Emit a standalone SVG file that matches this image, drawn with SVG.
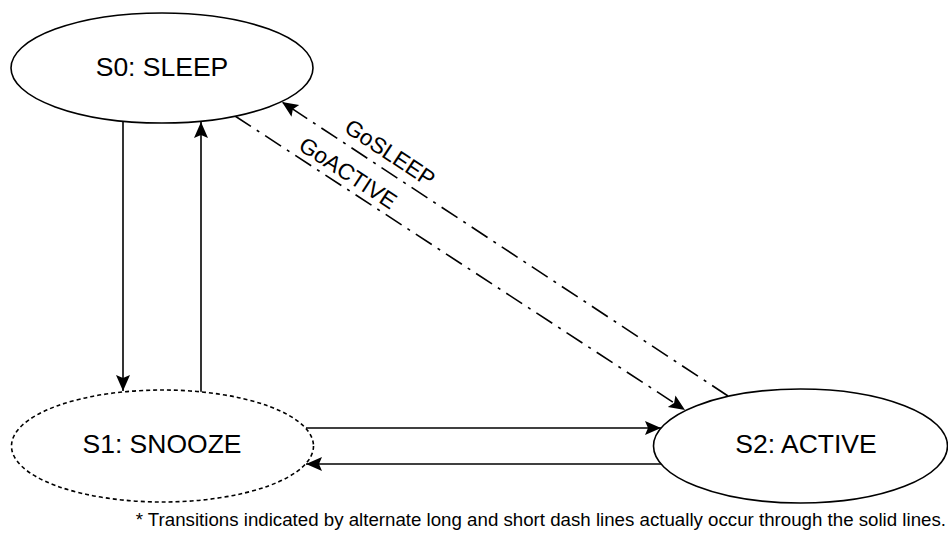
<svg xmlns="http://www.w3.org/2000/svg" width="948" height="534" viewBox="0 0 948 534">
<style>
  .node { fill: #ffffff; stroke: #000000; stroke-width: 1.6; }
  .dotted { stroke-dasharray: 4 3; }
  .lbl { font-family: "Liberation Sans", Arial, sans-serif; font-size: 26.5px; fill: #000; text-anchor: middle; }
  .edge { fill: none; stroke: #000; stroke-width: 1.6; }
  .dashdot { stroke-dasharray: 19 7 3 7; }
  .elbl { font-family: "Liberation Sans", Arial, sans-serif; font-size: 22.5px; fill: #000; text-anchor: middle; }
  .note { font-family: "Liberation Sans", Arial, sans-serif; font-size: 18.7px; fill: #000; text-anchor: end; }
</style>
<defs>
  <marker id="arr" markerUnits="userSpaceOnUse" markerWidth="18" markerHeight="16" refX="16" refY="7" orient="auto">
    <path d="M0,0 L16,7 L0,14 L3,7 Z" fill="#000"/>
  </marker>
</defs>
<rect width="948" height="534" fill="#ffffff"/>

<g id="connectors">
  <line class="edge" x1="123" y1="121" x2="123" y2="391" marker-end="url(#arr)"/>
  <line class="edge" x1="201" y1="392" x2="201" y2="122" marker-end="url(#arr)"/>
  <line class="edge" x1="306" y1="428" x2="661" y2="428" marker-end="url(#arr)"/>
  <line class="edge" x1="661" y1="464" x2="306" y2="464" marker-end="url(#arr)"/>
  <line class="edge dashdot" x1="728" y1="396" x2="282" y2="102" marker-end="url(#arr)"/>
  <line class="edge dashdot" x1="235" y1="116" x2="685" y2="410" marker-end="url(#arr)"/>
  <text class="elbl" x="385.7" y="159.4" transform="rotate(33.5 385.7 159.4)">GoSLEEP</text>
  <text class="elbl" x="343.8" y="179.4" transform="rotate(33.2 343.8 179.4)">GoACTIVE</text>
</g>

<g id="s0">
  <ellipse class="node" cx="162" cy="68" rx="151" ry="55"/>
  <text class="lbl" x="162" y="76">S0: SLEEP</text>
</g>
<g id="s1">
  <ellipse class="node dotted" cx="162.5" cy="446" rx="151" ry="56"/>
  <text class="lbl" x="162" y="453">S1: SNOOZE</text>
</g>
<g id="s2">
  <ellipse class="node" cx="800.5" cy="446" rx="147" ry="57"/>
  <text class="lbl" x="806" y="453">S2: ACTIVE</text>
</g>

<text class="note" x="946" y="526">* Transitions indicated by alternate long and short dash lines actually occur through the solid lines.</text>
</svg>
